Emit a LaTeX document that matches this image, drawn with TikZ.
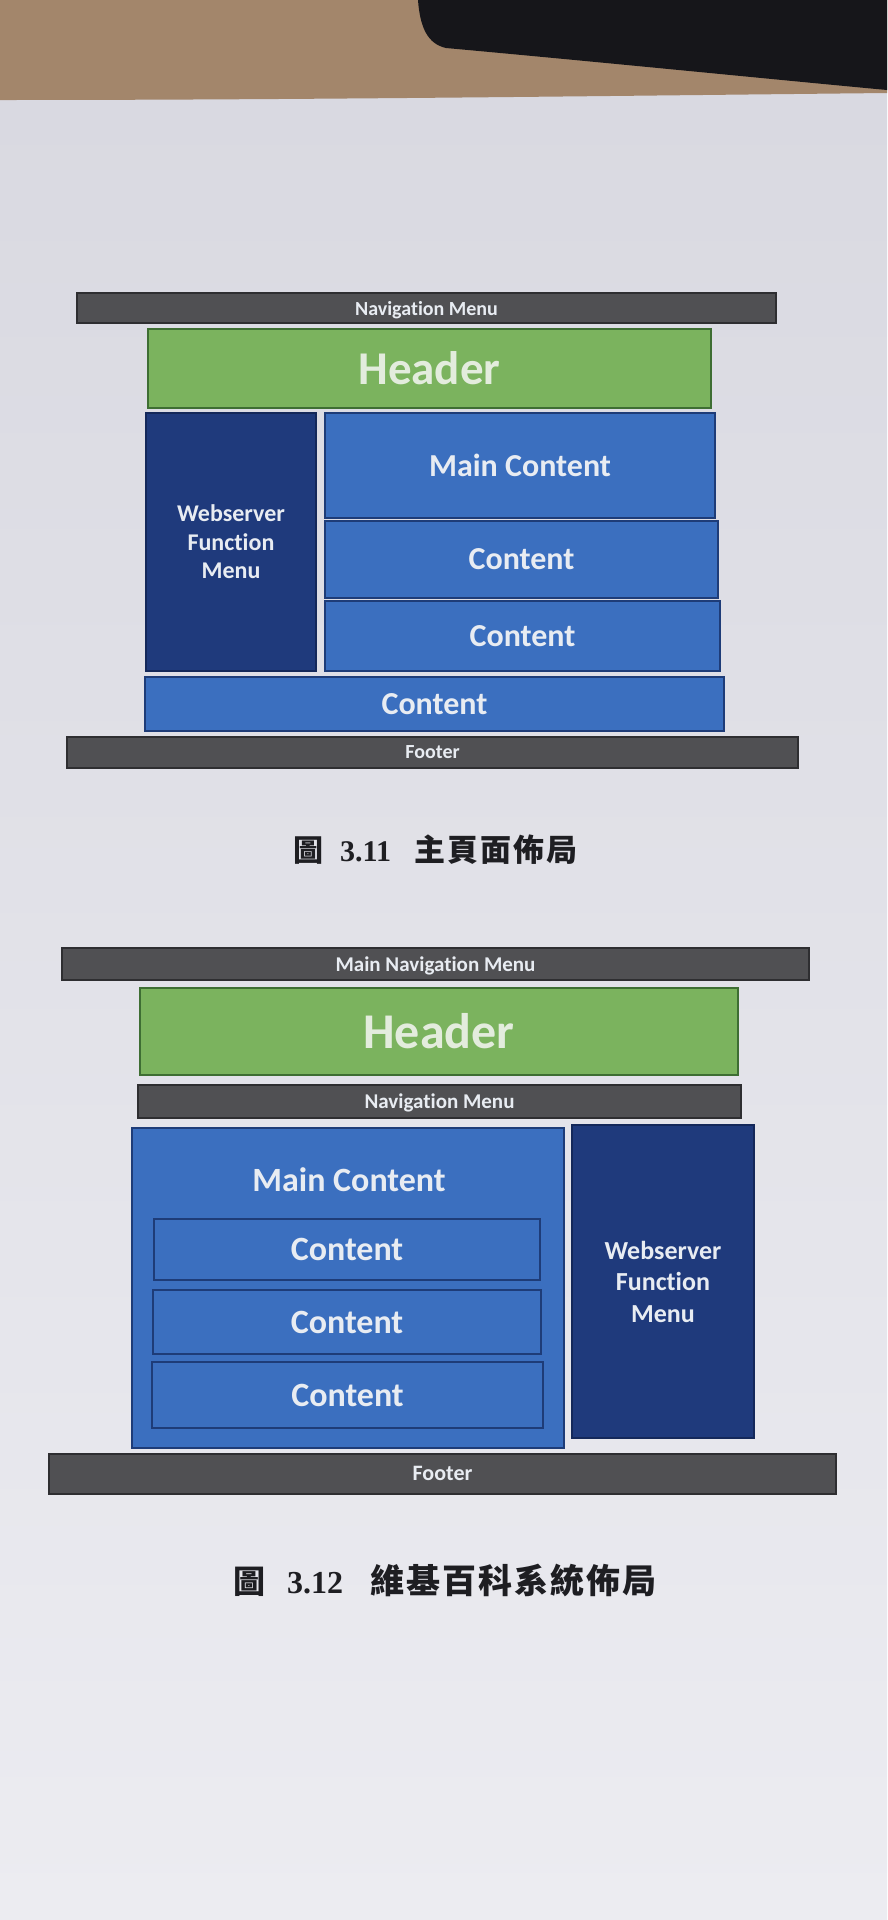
\documentclass[tikz,border=0pt]{standalone}
\usepackage{fontspec}
\setmainfont{Carlito}[Ligatures=NoCommon]
\newfontfamily\cjk{Noto Sans CJK TC}
\newfontfamily\capnum{Liberation Serif}
\definecolor{pagetop}{HTML}{D8D8E0}
\definecolor{pagebot}{HTML}{ECECF1}
\definecolor{tablec}{HTML}{A3866B}
\definecolor{darkobj}{HTML}{16161A}
\definecolor{barfill}{HTML}{505053}
\definecolor{barline}{HTML}{2E2E31}
\definecolor{greenfill}{HTML}{7BB35E}
\definecolor{greenline}{HTML}{3E6E33}
\definecolor{greentext}{HTML}{E3ECDD}
\definecolor{bluefill}{HTML}{3B6FBF}
\definecolor{blueline}{HTML}{1E3C78}
\definecolor{navyfill}{HTML}{1F3A7C}
\definecolor{navyline}{HTML}{14285A}
\definecolor{boxtext}{HTML}{E8ECF2}
\definecolor{captext}{HTML}{1E1E22}
\begin{document}
\begin{tikzpicture}[x=1pt,y=-1pt,
  boxbase/.style={rectangle, draw, line width=2pt, inner sep=0pt, text=boxtext, align=center},
  barbox/.style={boxbase, fill=barfill, draw=barline, text depth=0pt, font=\bfseries\fontsize{20}{24}\selectfont},
  headbox/.style={boxbase, fill=greenfill, draw=greenline, text=greentext},
  bluebox/.style={boxbase, fill=bluefill, draw=blueline},
  navybox/.style={boxbase, fill=navyfill, draw=navyline},
  lbl/.style={text=boxtext, inner sep=0pt, align=center},
  capnode/.style={text=captext, inner sep=0pt, anchor=west}
]
\useasboundingbox (0,0) rectangle (887,1920);
% photo background
\shade[top color=pagetop, bottom color=pagebot] (0,0) rectangle (887,1920);
\fill[tablec] (0,0) -- (887,0) -- (887,93) .. controls (600,96) and (300,100) .. (0,100) -- cycle;
\fill[darkobj] (418,0) .. controls (420,28) and (428,44) .. (446,48) .. controls (600,62) and (800,82) .. (887,90) -- (887,0) -- cycle;

% ---------------- Figure 3.11 ----------------
\node[barbox, minimum width=699pt, minimum height=30pt] (nav1) at (426.5,308) {Navigation Menu};
\node[headbox, minimum width=563pt, minimum height=79pt, font=\bfseries\fontsize{47}{50}\selectfont] (head1) at (429.5,368.5) {Header};
\node[navybox, minimum width=170pt, minimum height=258pt, font=\bfseries\fontsize{24}{28.5}\selectfont] (web1) at (231,542) {Webserver\\Function\\Menu};
\node[bluebox, minimum width=390pt, minimum height=105pt, font=\bfseries\fontsize{32}{36}\selectfont] (main1) at (520,465.5) {Main Content};
\node[bluebox, minimum width=393pt, minimum height=77pt, font=\bfseries\fontsize{32}{36}\selectfont] (c1a) at (521.5,559.5) {Content};
\node[bluebox, minimum width=395pt, minimum height=70pt, font=\bfseries\fontsize{32}{36}\selectfont] (c1b) at (522.5,636) {Content};
\node[bluebox, minimum width=579pt, minimum height=54pt, font=\bfseries\fontsize{32}{36}\selectfont] (c1c) at (434.5,704) {Content};
\node[barbox, minimum width=731pt, minimum height=31pt] (foot1) at (432.5,752.5) {Footer};

\node[capnode] (cap1) at (293,850) {{\cjk\bfseries\fontsize{30}{30}\selectfont 圖}\hspace{17pt}{\capnum\bfseries\fontsize{30}{30}\selectfont 3.11}\hspace{23pt}{\cjk\bfseries\fontsize{31}{31}\selectfont 主\hspace{2pt}頁\hspace{2pt}面\hspace{2pt}佈\hspace{2pt}局}};

% ---------------- Figure 3.12 ----------------
\node[barbox, minimum width=747pt, minimum height=32pt, font=\bfseries\fontsize{21}{24}\selectfont] (mnav2) at (435.5,964) {Main Navigation Menu};
\node[headbox, minimum width=598pt, minimum height=87pt, font=\bfseries\fontsize{50}{54}\selectfont] (head2) at (439,1031.5) {Header};
\node[barbox, minimum width=603pt, minimum height=33pt, font=\bfseries\fontsize{21}{24}\selectfont] (nav2) at (439.5,1101.5) {Navigation Menu};
\node[bluebox, minimum width=432pt, minimum height=320pt] (main2) at (348,1288) {};
\node[lbl, font=\bfseries\fontsize{34}{38}\selectfont] (main2t) at (349,1180) {Main Content};
\node[bluebox, minimum width=386pt, minimum height=61pt, font=\bfseries\fontsize{34}{38}\selectfont] (in1) at (347,1249.5) {Content};
\node[bluebox, minimum width=388pt, minimum height=64pt, font=\bfseries\fontsize{34}{38}\selectfont] (in2) at (347,1322) {Content};
\node[bluebox, minimum width=391pt, minimum height=66pt, font=\bfseries\fontsize{34}{38}\selectfont] (in3) at (347.5,1395) {Content};
\node[navybox, minimum width=182pt, minimum height=313pt, font=\bfseries\fontsize{26}{31.5}\selectfont] (web2) at (663,1281.5) {Webserver\\Function\\Menu};
\node[barbox, minimum width=787pt, minimum height=40pt, font=\bfseries\fontsize{22}{26}\selectfont] (foot2) at (442.5,1473.5) {Footer};

\node[capnode] (cap2) at (233,1580) {{\cjk\bfseries\fontsize{32}{32}\selectfont 圖}\hspace{22pt}{\capnum\bfseries\fontsize{32}{32}\selectfont 3.12}\hspace{27pt}{\cjk\bfseries\fontsize{34}{34}\selectfont 維\hspace{2pt}基\hspace{2pt}百\hspace{2pt}科\hspace{2pt}系\hspace{2pt}統\hspace{2pt}佈\hspace{2pt}局}};
\end{tikzpicture}
\end{document}
